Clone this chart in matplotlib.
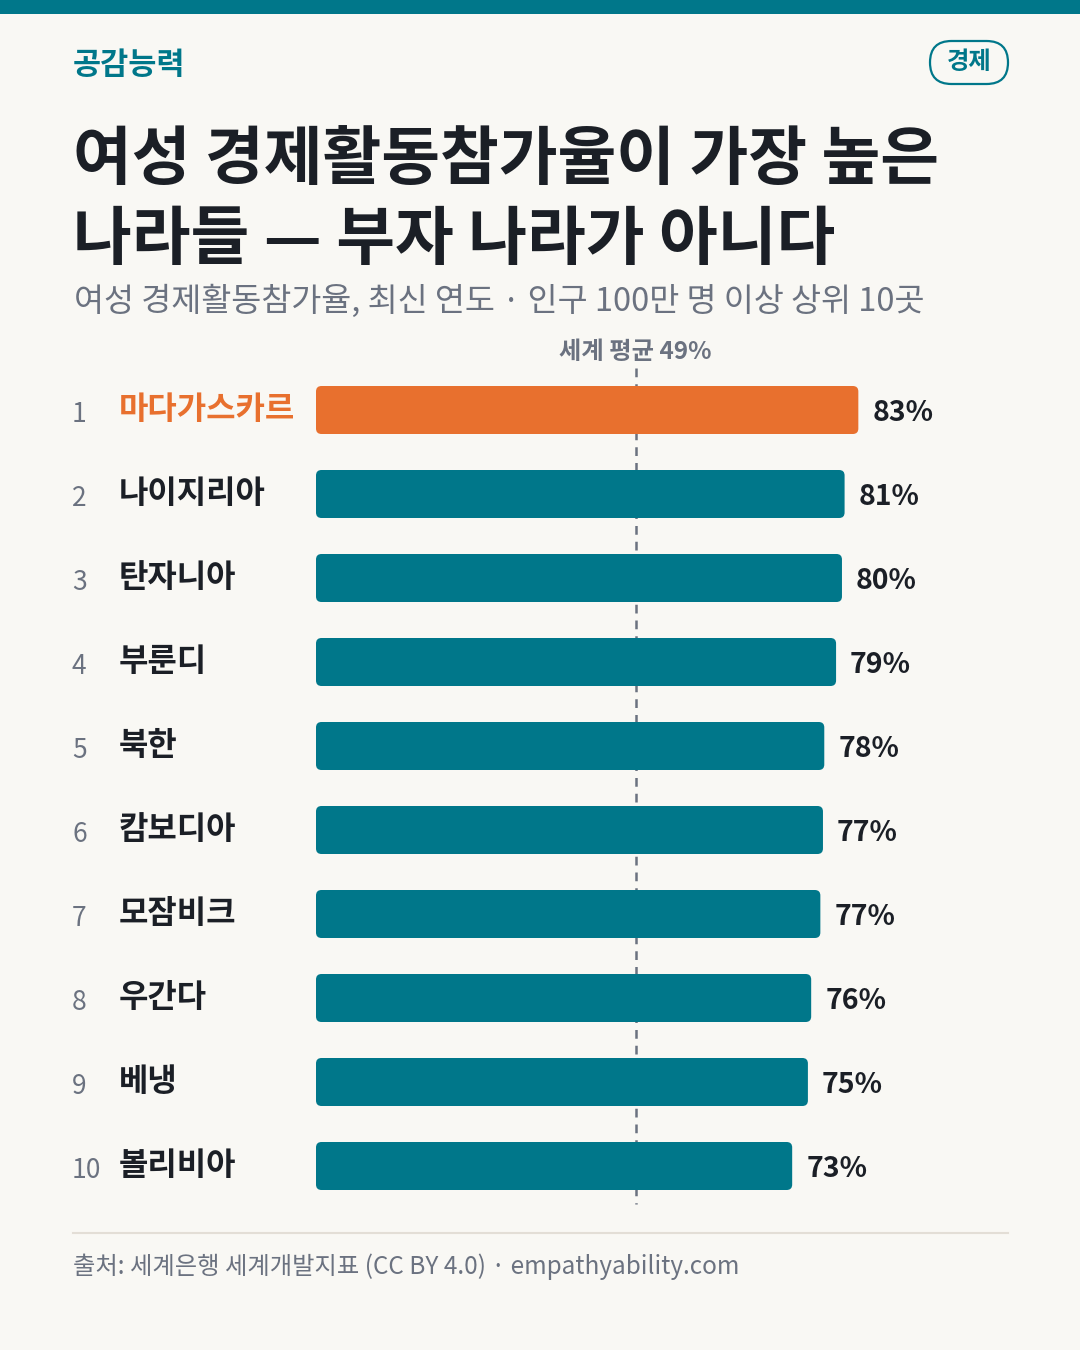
import matplotlib
matplotlib.use("Agg")
import matplotlib.pyplot as plt
from matplotlib.patches import FancyBboxPatch, Rectangle

plt.rcParams['font.family'] = ['Noto Sans CJK KR', 'DejaVu Sans']

# data
countries = ["마다가스카르", "나이지리아", "탄자니아", "부룬디", "북한",
             "캄보디아", "모잠비크", "우간다", "베냉", "볼리비아"]
rates = [82.8, 80.7, 80.3, 79.4, 77.6, 77.4, 77.0, 75.6, 75.1, 72.7]
world_avg = 48.8

title_lines = ["여성 경제활동참가율이 가장 높은", "나라들 — 부자 나라가 아니다"]
subtitle = "여성 경제활동참가율, 최신 연도 · 인구 100만 명 이상 상위 10곳"
source = "출처: 세계은행 세계개발지표 (CC BY 4.0) · empathyability.com"

BG = "#f9f8f4"
TEAL = "#00778a"
ORANGE = "#e8702e"
DARK = "#1b1f26"
GRAY = "#6b7280"

W, H = 1080, 1350
fig = plt.figure(figsize=(W / 100, H / 100), dpi=100, facecolor=BG)

# overlay in pixel units for header / footer
deco = fig.add_axes([0, 0, 1, 1])
deco.set_xlim(0, W)
deco.set_ylim(H, 0)
deco.axis("off")
deco.patch.set_alpha(0)

deco.add_patch(Rectangle((0, 0), W, 14, color=TEAL, lw=0))
deco.text(73, 65, "공감능력", fontsize=22, fontweight="bold", color=TEAL, va="center")

badge = FancyBboxPatch((930, 41), 78, 43, boxstyle="round,pad=0,rounding_size=21.5",
                       fc=BG, ec=TEAL, lw=1.6)
deco.add_patch(badge)
deco.text(969, 62, "경제", fontsize=17.5, fontweight="bold", color=TEAL,
          ha="center", va="center")

deco.text(73, 160, title_lines[0], fontsize=46, fontweight="bold", color=DARK, va="center")
deco.text(73, 240, title_lines[1], fontsize=46, fontweight="bold", color=DARK, va="center")
deco.text(74, 301, subtitle, fontsize=23.5, color=GRAY, va="center")

deco.plot([73, 1008], [1233, 1233], color="#e3ded6", lw=1.5)
deco.text(73, 1267, source, fontsize=17.5, color=GRAY, va="center")

# bar chart axes: 6.55 px per percentage point, 84 px per row
px_per_unit = 6.55
ax_left, ax_w = 316, 700
ax_top, ax_bot = 368, 1208
ax = fig.add_axes([ax_left / W, 1 - ax_bot / H, ax_w / W, (ax_bot - ax_top) / H])
ax.set_xlim(0, ax_w / px_per_unit)
ax.set_ylim(len(countries) - 0.5, -0.5)
ax.axis("off")
ax.patch.set_alpha(0)

bar_h = 48 / 84
radius = 5.5 / px_per_unit
aspect = px_per_unit / 84

ax.vlines(world_avg, -0.5, len(countries) - 0.55, colors=GRAY, lw=1.8,
          linestyles=(0, (3.5, 2.8)), zorder=1)
ax.text(world_avg, -0.5 - 16 / 84, f"세계 평균 {world_avg:.0f}%", fontsize=17.5,
        fontweight="bold", color=GRAY, ha="center", va="center", clip_on=False)

for i, (name, v) in enumerate(zip(countries, rates)):
    col = ORANGE if i == 0 else TEAL
    bar = FancyBboxPatch((0, i - bar_h / 2), v, bar_h,
                         boxstyle=f"round,pad=0,rounding_size={radius}",
                         mutation_aspect=aspect, fc=col, ec="none", zorder=2)
    ax.add_patch(bar)
    ax.text(v + 14 / px_per_unit, i + 0.03, f"{v:.0f}%", fontsize=20.5, fontweight="bold",
            color=DARK, va="center", clip_on=False)
    # rank and name in pixel overlay
    yc = 410 + 84 * i
    deco.text(72, yc + 4, str(i + 1), fontsize=19, color=GRAY, va="center")
    deco.text(119, yc, name, fontsize=23, fontweight="bold",
              color=ORANGE if i == 0 else DARK, va="center")

fig.savefig("out.png", dpi=100, facecolor=BG)
